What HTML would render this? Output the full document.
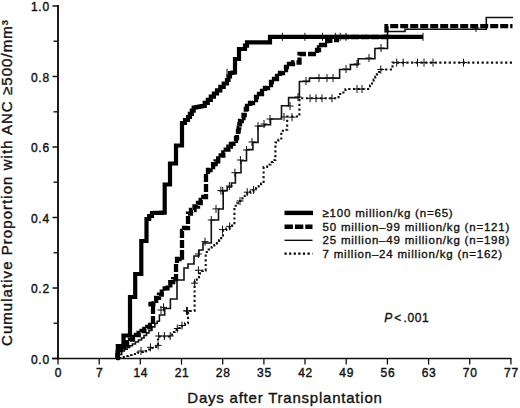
<!DOCTYPE html>
<html><head><meta charset="utf-8"><style>
html,body{margin:0;padding:0;background:#fff;}
svg{display:block;}
text{font-family:"Liberation Sans",sans-serif;fill:#111;}
.tk{font-size:12px;letter-spacing:0.7px;stroke:#111;stroke-width:0.4px;}
.xl{font-size:15px;letter-spacing:0.78px;stroke:#111;stroke-width:0.35px;}
.yl{font-size:15px;letter-spacing:1.05px;stroke:#111;stroke-width:0.35px;}
.pv{font-size:12px;letter-spacing:1.3px;stroke:#111;stroke-width:0.35px;}
.lg{font-size:11.5px;letter-spacing:0.8px;stroke:#111;stroke-width:0.35px;}
</style></head><body>
<svg width="520" height="408" viewBox="0 0 520 408">
<line x1="58" y1="5" x2="58" y2="359.4" stroke="#111" stroke-width="1.9"/>
<line x1="52" y1="358.5" x2="511.5" y2="358.5" stroke="#111" stroke-width="1.7"/>
<line x1="52.5" y1="358.5" x2="58" y2="358.5" stroke="#111" stroke-width="1.5"/>
<line x1="53.5" y1="323.2" x2="58" y2="323.2" stroke="#111" stroke-width="1.4"/>
<line x1="52.5" y1="288.0" x2="58" y2="288.0" stroke="#111" stroke-width="1.5"/>
<line x1="53.5" y1="252.8" x2="58" y2="252.8" stroke="#111" stroke-width="1.4"/>
<line x1="52.5" y1="217.5" x2="58" y2="217.5" stroke="#111" stroke-width="1.5"/>
<line x1="53.5" y1="182.2" x2="58" y2="182.2" stroke="#111" stroke-width="1.4"/>
<line x1="52.5" y1="147.0" x2="58" y2="147.0" stroke="#111" stroke-width="1.5"/>
<line x1="53.5" y1="111.8" x2="58" y2="111.8" stroke="#111" stroke-width="1.4"/>
<line x1="52.5" y1="76.5" x2="58" y2="76.5" stroke="#111" stroke-width="1.5"/>
<line x1="53.5" y1="41.2" x2="58" y2="41.2" stroke="#111" stroke-width="1.4"/>
<line x1="52.5" y1="6.0" x2="58" y2="6.0" stroke="#111" stroke-width="1.5"/>
<line x1="58.0" y1="358" x2="58.0" y2="364.6" stroke="#111" stroke-width="1.3"/>
<line x1="99.2" y1="358" x2="99.2" y2="364.6" stroke="#111" stroke-width="1.3"/>
<line x1="140.3" y1="358" x2="140.3" y2="364.6" stroke="#111" stroke-width="1.3"/>
<line x1="181.5" y1="358" x2="181.5" y2="364.6" stroke="#111" stroke-width="1.3"/>
<line x1="222.7" y1="358" x2="222.7" y2="364.6" stroke="#111" stroke-width="1.3"/>
<line x1="263.9" y1="358" x2="263.9" y2="364.6" stroke="#111" stroke-width="1.3"/>
<line x1="305.0" y1="358" x2="305.0" y2="364.6" stroke="#111" stroke-width="1.3"/>
<line x1="346.2" y1="358" x2="346.2" y2="364.6" stroke="#111" stroke-width="1.3"/>
<line x1="387.4" y1="358" x2="387.4" y2="364.6" stroke="#111" stroke-width="1.3"/>
<line x1="428.6" y1="358" x2="428.6" y2="364.6" stroke="#111" stroke-width="1.3"/>
<line x1="469.7" y1="358" x2="469.7" y2="364.6" stroke="#111" stroke-width="1.3"/>
<line x1="510.9" y1="358" x2="510.9" y2="364.6" stroke="#111" stroke-width="1.3"/>
<text x="49.8" y="363.6" text-anchor="end" class="tk">0.0</text>
<text x="49.8" y="293.1" text-anchor="end" class="tk">0.2</text>
<text x="49.8" y="222.6" text-anchor="end" class="tk">0.4</text>
<text x="49.8" y="152.1" text-anchor="end" class="tk">0.6</text>
<text x="49.8" y="81.6" text-anchor="end" class="tk">0.8</text>
<text x="49.8" y="11.1" text-anchor="end" class="tk">1.0</text>
<text x="58.5" y="377" text-anchor="middle" class="tk">0</text>
<text x="99.7" y="377" text-anchor="middle" class="tk">7</text>
<text x="140.8" y="377" text-anchor="middle" class="tk">14</text>
<text x="182.0" y="377" text-anchor="middle" class="tk">21</text>
<text x="223.2" y="377" text-anchor="middle" class="tk">28</text>
<text x="264.4" y="377" text-anchor="middle" class="tk">35</text>
<text x="305.5" y="377" text-anchor="middle" class="tk">42</text>
<text x="346.7" y="377" text-anchor="middle" class="tk">49</text>
<text x="387.9" y="377" text-anchor="middle" class="tk">56</text>
<text x="429.1" y="377" text-anchor="middle" class="tk">63</text>
<text x="470.2" y="377" text-anchor="middle" class="tk">70</text>
<text x="511.4" y="377" text-anchor="middle" class="tk">77</text>
<text x="187.3" y="402.6" class="xl">Days after Transplantation</text>
<text transform="translate(12.3,346) rotate(-90)" class="yl">Cumulative Proportion with ANC ≥500/mm³</text>
<text x="384.3" y="322.3" class="pv"><tspan font-style="italic">P</tspan><tspan x="394.3">&lt;</tspan><tspan x="403.6" style="letter-spacing:0.55px">.001</tspan></text>
<line x1="284.5" y1="212.9" x2="313" y2="212.9" stroke="#000" stroke-width="4.4"/>
<line x1="284.5" y1="226.7" x2="312.5" y2="226.7" stroke="#000" stroke-width="4.6" stroke-dasharray="8.4 2"/>
<line x1="284.5" y1="240.3" x2="312.5" y2="240.3" stroke="#000" stroke-width="1.3"/>
<line x1="284.5" y1="253.7" x2="312.5" y2="253.7" stroke="#000" stroke-width="2.2" stroke-dasharray="2.2 2.4"/>
<text x="322.5" y="216.9" class="lg">≥100 million/kg (n=65)</text>
<text x="322.5" y="230.7" class="lg">50 million–99 million/kg (n=121)</text>
<text x="322.5" y="244.3" class="lg">25 million–49 million/kg (n=198)</text>
<text x="322.5" y="257.7" class="lg">7 million–24 million/kg (n=162)</text>
<path d="M119.0,358.0 L122.0,358.0 L122.0,357.0 L125.0,357.0 L125.0,356.0 L128.3,356.0 L128.3,355.0 L131.7,355.0 L131.7,354.0 L135.0,354.0 L135.0,353.0 L137.7,353.0 L137.7,352.5 L140.3,352.5 L140.3,352.0 L143.0,352.0 L143.0,351.5 L145.7,351.5 L145.7,351.0 L148.1,351.0 L148.1,349.5 L150.5,349.5 L150.5,348.0 L154.2,348.0 L154.2,347.0 L158.0,347.0 L158.0,346.0 L158.0,336.5 L172.0,336.5 L172.0,332.0 L174.7,332.0 L174.7,330.0 L177.3,330.0 L177.3,328.0 L179.7,328.0 L179.7,326.3 L182.0,326.3 L182.0,324.6 L185.0,324.6 L185.0,323.3 L188.0,323.3 L188.0,322.0 L188.0,311.0 L194.6,311.0 L194.6,281.0 L196.8,281.0 L196.8,278.5 L199.0,278.5 L199.0,276.0 L199.5,276.0 L199.5,273.5 L200.0,273.5 L200.0,271.0 L202.8,271.0 L202.8,270.5 L205.7,270.5 L205.7,270.0 L205.7,252.0 L208.7,252.0 L208.7,249.5 L211.7,249.5 L211.7,247.0 L214.3,247.0 L214.3,245.0 L216.9,245.0 L216.9,243.0 L219.1,243.0 L219.1,240.0 L221.2,240.0 L221.2,237.0 L223.0,237.0 L223.0,233.0 L223.0,230.0 L226.3,230.0 L226.3,228.5 L229.6,228.5 L229.6,227.0 L232.0,227.0 L232.0,225.5 L234.4,225.5 L234.4,224.0 L234.4,205.7 L237.2,205.7 L237.2,203.3 L240.0,203.3 L240.0,201.0 L242.4,201.0 L242.4,198.3 L244.8,198.3 L244.8,195.7 L247.2,195.7 L247.2,193.0 L250.3,193.0 L250.3,191.5 L253.5,191.5 L253.5,190.0 L256.1,190.0 L256.1,188.0 L258.7,188.0 L258.7,186.0 L261.1,186.0 L261.1,183.5 L263.6,183.5 L263.6,181.0 L263.6,167.0 L267.1,167.0 L267.1,164.5 L270.5,164.5 L270.5,162.0 L272.9,162.0 L272.9,160.0 L275.4,160.0 L275.4,158.0 L275.4,142.5 L278.4,142.5 L278.4,139.8 L281.3,139.8 L281.3,137.0 L281.3,130.7 L284.2,130.7 L284.2,129.7 L287.2,129.7 L287.2,128.7 L287.2,116.5 L299.4,116.5 L299.4,98.3 L338.6,98.3 L338.6,94.0 L342.1,94.0 L342.1,92.5 L345.5,92.5 L345.5,91.0 L345.5,89.0 L368.0,89.0 L370.0,89.0 L370.0,85.5 L372.0,85.5 L372.0,82.0 L373.6,82.0 L373.6,79.5 L375.3,79.5 L375.3,76.9 L376.9,76.9 L376.9,74.4 L378.9,74.4 L378.9,72.0 L380.8,72.0 L380.8,69.5 L392.5,69.5 L392.5,62.6 L512.5,62.6" fill="none" stroke="#111" stroke-width="2.1" stroke-dasharray="2.2 2.5" stroke-linejoin="miter"/>
<path d="M117.0,358.0 L119.3,358.0 L119.3,354.5 L121.7,354.5 L121.7,351.0 L124.4,351.0 L124.4,349.2 L127.1,349.2 L127.1,347.5 L129.7,347.5 L129.7,345.8 L132.4,345.8 L132.4,344.0 L135.4,344.0 L135.4,342.0 L138.5,342.0 L138.5,340.0 L141.5,340.0 L141.5,338.0 L144.0,338.0 L144.0,335.5 L146.5,335.5 L146.5,332.9 L149.0,332.9 L149.0,330.4 L151.9,330.4 L151.9,326.9 L154.9,326.9 L154.9,323.5 L157.2,323.5 L157.2,321.2 L159.4,321.2 L159.4,319.0 L159.4,315.0 L164.7,315.0 L164.7,308.5 L170.4,308.5 L170.4,299.0 L177.0,299.0 L177.0,280.0 L184.0,280.0 L184.0,268.0 L188.0,268.0 L188.0,264.0 L194.0,264.0 L194.0,256.0 L199.0,256.0 L199.0,250.0 L203.0,250.0 L203.0,243.0 L211.3,243.0 L211.3,220.0 L218.5,220.0 L218.5,209.0 L223.2,209.0 L223.2,190.6 L227.2,190.6 L227.2,187.0 L231.4,187.0 L231.4,183.0 L235.4,183.0 L235.4,172.7 L241.0,172.7 L241.0,160.7 L246.5,160.7 L246.5,149.6 L252.9,149.6 L252.9,142.4 L258.0,142.4 L258.0,126.0 L264.6,126.0 L264.6,124.8 L270.5,124.8 L270.5,119.0 L281.5,119.0 L281.5,105.7 L288.6,105.7 L288.6,97.6 L299.4,97.6 L299.4,81.5 L309.5,81.5 L309.5,78.1 L339.6,78.1 L339.6,69.5 L350.4,69.5 L350.4,64.6 L358.2,64.6 L358.2,58.7 L374.9,58.7 L374.9,48.5 L387.5,48.5 L387.5,31.5 L405.0,31.5 L405.0,29.2 L486.3,29.2 L486.3,17.5 L513.0,17.5" fill="none" stroke="#111" stroke-width="1.6" stroke-linejoin="miter"/>
<path d="M117.0,358.0 L117.3,358.0 L117.3,355.3 L117.7,355.3 L117.7,352.7 L118.0,352.7 L118.0,350.0 L121.0,350.0 L121.0,347.4 L124.0,347.4 L124.0,344.8 L127.0,344.8 L127.0,342.2 L130.0,342.2 L130.0,339.6 L133.0,339.6 L133.0,337.0 L135.9,337.0 L135.9,335.0 L138.7,335.0 L138.7,333.0 L141.6,333.0 L141.6,331.0 L144.4,331.0 L144.4,329.0 L147.3,329.0 L147.3,327.0 L150.1,327.0 L150.1,325.0 L153.0,325.0 L153.0,323.0 L153.0,308.0 L150.5,308.0 L150.5,304.0 L153.3,304.0 L153.3,300.9 L156.2,300.9 L156.2,297.8 L159.0,297.8 L159.0,294.7 L161.8,294.7 L161.8,291.6 L164.7,291.6 L164.7,288.4 L167.5,288.4 L167.5,285.3 L170.3,285.3 L170.3,282.2 L173.2,282.2 L173.2,279.1 L176.0,279.1 L176.0,276.0 L176.0,263.0 L177.0,263.0 L177.0,259.0 L179.5,259.0 L179.5,257.5 L182.0,257.5 L182.0,256.0 L182.0,231.0 L184.0,231.0 L184.0,228.0 L188.0,228.0 L188.0,225.7 L188.0,213.7 L191.0,213.7 L191.0,210.0 L194.5,210.0 L194.5,206.5 L198.0,206.5 L198.0,203.0 L200.7,203.0 L200.7,200.0 L203.3,200.0 L203.3,197.0 L206.0,197.0 L206.0,194.0 L206.0,174.0 L208.0,174.0 L208.0,170.0 L210.5,170.0 L210.5,167.1 L213.1,167.1 L213.1,164.2 L215.6,164.2 L215.6,161.3 L218.2,161.3 L218.2,158.4 L220.7,158.4 L220.7,155.5 L223.3,155.5 L223.3,152.5 L225.8,152.5 L225.8,149.6 L228.4,149.6 L228.4,146.7 L230.9,146.7 L230.9,143.8 L233.5,143.8 L233.5,140.9 L236.0,140.9 L236.0,138.0 L237.0,138.0 L237.0,134.5 L238.0,134.5 L238.0,131.0 L238.7,131.0 L238.7,127.7 L239.3,127.7 L239.3,124.3 L240.0,124.3 L240.0,121.0 L241.8,121.0 L241.8,118.0 L243.5,118.0 L243.5,115.0 L244.7,115.0 L244.7,112.0 L245.8,112.0 L245.8,109.0 L247.0,109.0 L247.0,106.0 L250.0,106.0 L250.0,103.0 L253.0,103.0 L253.0,100.0 L256.0,100.0 L256.0,97.0 L259.0,97.0 L259.0,94.0 L262.0,94.0 L262.0,91.0 L265.0,91.0 L265.0,88.0 L268.0,88.0 L268.0,85.0 L271.0,85.0 L271.0,82.0 L274.0,82.0 L274.0,79.0 L277.0,79.0 L277.0,76.0 L280.0,76.0 L280.0,73.0 L283.0,73.0 L283.0,70.0 L286.0,70.0 L286.0,67.0 L289.0,67.0 L289.0,64.0 L293.0,64.0 L293.0,62.5 L299.5,62.5 L299.5,54.0 L313.0,54.0 L317.0,54.0 L317.0,50.0 L319.0,50.0 L319.0,47.5 L321.0,47.5 L321.0,45.0 L325.0,45.0 L325.0,41.0 L327.5,41.0 L327.5,40.8 L330.0,40.8 L330.0,40.5 L334.0,40.5 L334.0,40.0 L337.0,40.0 L337.0,37.0 L386.5,37.0 L386.5,26.2 L512.5,26.2" fill="none" stroke="#000" stroke-width="4.3" stroke-dasharray="8 2" stroke-linejoin="miter"/>
<path d="M116.0,358.0 L117.8,358.0 L117.8,346.0 L123.5,346.0 L123.5,335.5 L130.0,335.5 L130.0,297.0 L135.2,297.0 L135.2,274.0 L141.3,274.0 L141.3,241.0 L146.5,241.0 L146.5,219.0 L149.2,219.0 L149.2,216.0 L152.0,216.0 L152.0,213.0 L155.2,213.0 L155.2,212.9 L158.3,212.9 L158.3,212.8 L161.5,212.8 L161.5,212.6 L164.7,212.6 L164.7,212.5 L164.7,184.5 L170.0,184.5 L170.0,163.5 L176.0,163.5 L176.0,145.5 L182.0,145.5 L182.0,123.0 L185.0,123.0 L185.0,120.0 L188.0,120.0 L188.0,117.0 L189.9,117.0 L189.9,113.8 L191.8,113.8 L191.8,110.7 L193.7,110.7 L193.7,107.5 L196.3,107.5 L196.3,107.0 L199.0,107.0 L199.0,106.5 L201.6,106.5 L201.6,106.0 L204.7,106.0 L204.7,102.9 L207.8,102.9 L207.8,99.8 L210.8,99.8 L210.8,96.6 L213.9,96.6 L213.9,93.5 L217.0,93.5 L217.0,90.4 L220.3,90.4 L220.3,86.9 L223.7,86.9 L223.7,83.5 L227.0,83.5 L227.0,80.0 L228.5,80.0 L228.5,76.5 L230.0,76.5 L230.0,73.0 L232.5,73.0 L232.5,72.5 L235.0,72.5 L235.0,72.0 L235.0,59.0 L239.0,59.0 L239.0,49.0 L243.0,49.0 L245.0,49.0 L245.0,45.6 L247.0,45.6 L247.0,42.3 L270.0,42.3 L270.0,36.8 L423.0,36.8" fill="none" stroke="#000" stroke-width="4.2" stroke-linejoin="miter"/>
<path d="M137.5,351.0h7M141.0,347.0v8M157.5,310.0h7M161.0,306.0v8M160.0,307.3h7M163.5,303.3v8M194.9,254.0h7M198.4,250.0v8M201.5,241.6h7M205.0,237.6v8M207.8,220.0h7M211.3,216.0v8M212.5,208.9h7M216.0,204.9v8M217.4,190.6h7M220.9,186.6v8M219.2,191.0h7M222.7,187.0v8M225.9,186.0h7M229.4,182.0v8M231.4,172.7h7M234.9,168.7v8M236.9,160.0h7M240.4,156.0v8M243.0,150.0h7M246.5,146.0v8M248.5,142.0h7M252.0,138.0v8M254.5,126.0h7M258.0,122.0v8M260.5,124.0h7M264.0,120.0v8M266.5,119.0h7M270.0,115.0v8M280.5,117.0h7M284.0,113.0v8M286.5,106.0h7M290.0,102.0v8M294.5,97.0h7M298.0,93.0v8M302.5,81.0h7M306.0,77.0v8M315.5,78.0h7M319.0,74.0v8M323.5,78.0h7M327.0,74.0v8M329.5,78.0h7M333.0,74.0v8M342.5,69.0h7M346.0,65.0v8M353.5,64.0h7M357.0,60.0v8M365.5,58.0h7M369.0,54.0v8M377.5,48.0h7M381.0,44.0v8M472.5,28.0h7M476.0,24.0v8M147.0,347.3h7M150.5,343.3v8M154.7,345.4h7M158.2,341.4v8M155.2,336.0h7M158.7,332.0v8M160.9,336.0h7M164.4,332.0v8M166.7,336.0h7M170.2,332.0v8M173.8,328.5h7M177.3,324.5v8M178.5,325.5h7M182.0,321.5v8M183.0,310.8h7M186.5,306.8v8M183.9,311.0h7M187.4,307.0v8M191.1,283.2h7M194.6,279.2v8M194.9,270.3h7M198.4,266.3v8M219.0,229.6h7M222.5,225.6v8M226.1,226.4h7M229.6,222.4v8M236.5,201.0h7M240.0,197.0v8M243.7,192.2h7M247.2,188.2v8M250.0,189.8h7M253.5,185.8v8M288.5,117.2h7M292.0,113.2v8M306.5,98.3h7M310.0,94.3v8M312.5,98.3h7M316.0,94.3v8M318.5,98.3h7M322.0,94.3v8M328.5,98.3h7M332.0,94.3v8M353.5,89.0h7M357.0,85.0v8M358.5,89.0h7M362.0,85.0v8M377.3,69.5h7M380.8,65.5v8M393.2,62.6h7M396.7,58.6v8M399.7,62.6h7M403.2,58.6v8M414.0,62.6h7M417.5,58.6v8M420.5,62.6h7M424.0,58.6v8M429.5,62.6h7M433.0,58.6v8M460.0,62.6h7M463.5,58.6v8M227.0,68.7v8M282.4,32.8v8M304.9,32.8v8M322.5,32.8v8M335.3,32.8v8M340.2,32.8v8M346.0,32.8v8M423.0,32.8v8" fill="none" stroke="#111" stroke-width="1"/>
</svg>
</body></html>
